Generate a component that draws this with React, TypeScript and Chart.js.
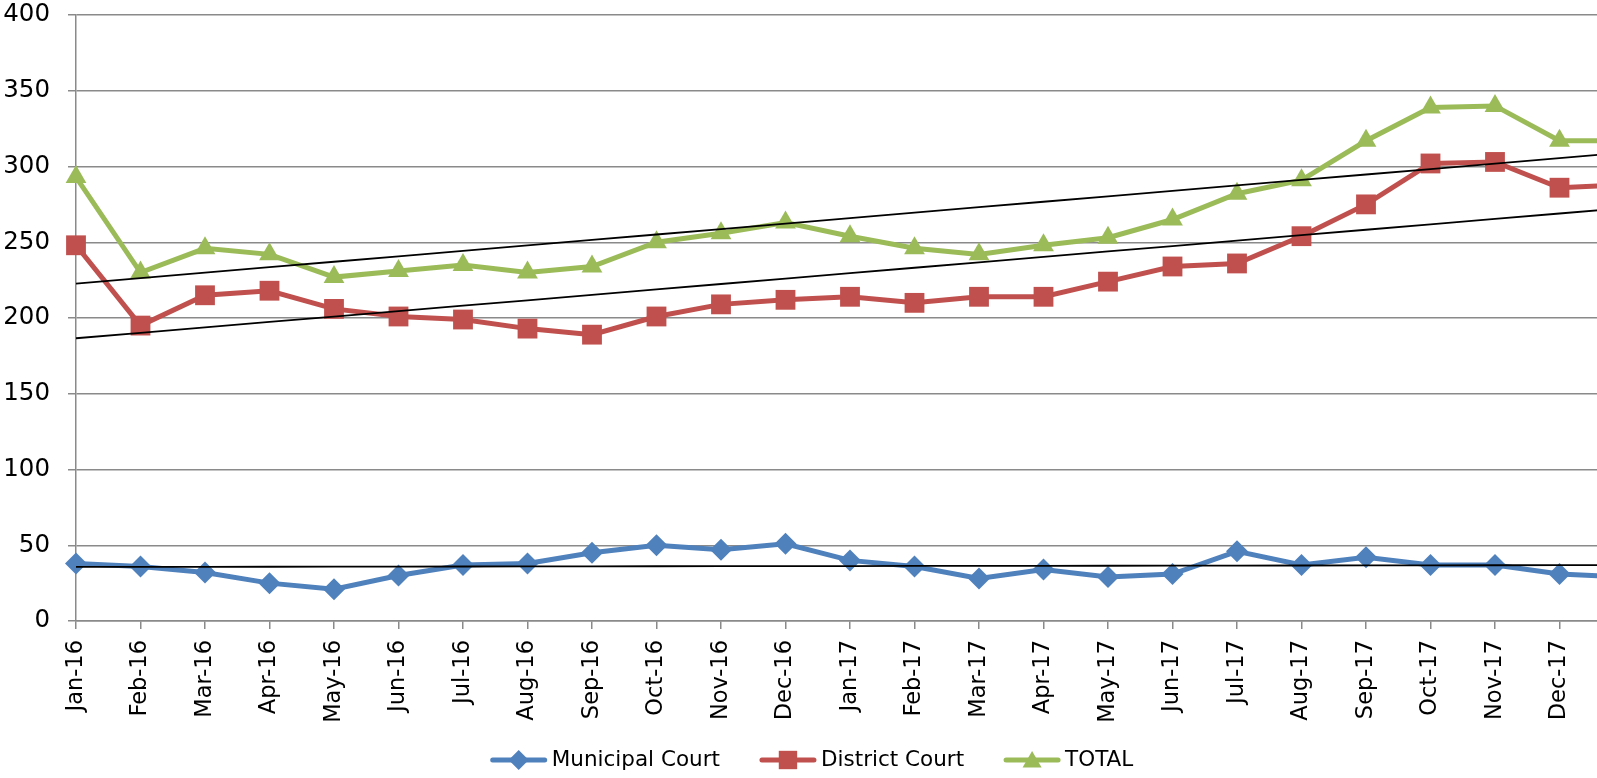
import React, { useEffect, useRef } from 'react';
import { Chart, registerables } from 'chart.js';

Chart.register(...registerables);

const months = [
  'Jan-16', 'Feb-16', 'Mar-16', 'Apr-16', 'May-16', 'Jun-16', 'Jul-16', 'Aug-16', 'Sep-16', 'Oct-16', 'Nov-16', 'Dec-16',
  'Jan-17', 'Feb-17', 'Mar-17', 'Apr-17', 'May-17', 'Jun-17', 'Jul-17', 'Aug-17', 'Sep-17', 'Oct-17', 'Nov-17', 'Dec-17',
  'Jan-18',
];
const municipal = [38, 36, 32, 25, 21, 30, 37, 38, 45, 50, 47, 51, 40, 36, 28, 34, 29, 31, 46, 37, 42, 37, 37, 31, 29];
const district = [248, 195, 215, 218, 206, 201, 199, 193, 189, 201, 209, 212, 214, 210, 214, 214, 224, 234, 236, 254, 275, 302, 303, 286, 288];
const total = [293, 230, 246, 242, 227, 231, 235, 230, 234, 250, 256, 263, 254, 246, 242, 248, 253, 265, 282, 291, 317, 339, 340, 317, 317];
const seriesNames = ['Municipal Court', 'District Court', 'TOTAL'];
const seriesColors = ['#4F81BD', '#C0504D', '#9BBB59'];
const yTicks = [0, 50, 100, 150, 200, 250, 300, 350, 400];

const FONT = '"DejaVu Sans", "Liberation Sans", sans-serif';
const MARKER_STYLES = ['rectRot', 'rect', 'triangle'];

function linearTrend(values: number[]): number[] {
  const n = values.length;
  let sx = 0, sy = 0, sxx = 0, sxy = 0;
  values.forEach((v, i) => { sx += i; sy += v; sxx += i * i; sxy += i * v; });
  const slope = (n * sxy - sx * sy) / (n * sxx - sx * sx);
  const icpt = (sy - slope * sx) / n;
  return values.map((_, i) => icpt + slope * i);
}

function drawMarker(ctx: CanvasRenderingContext2D, style: string, x: number, y: number, r: number) {
  ctx.beginPath();
  if (style === 'rectRot') {
    ctx.moveTo(x, y - r); ctx.lineTo(x + r, y); ctx.lineTo(x, y + r); ctx.lineTo(x - r, y);
  } else if (style === 'rect') {
    const s = r * Math.SQRT1_2;
    ctx.rect(x - s, y - s, 2 * s, 2 * s);
  } else {
    ctx.moveTo(x, y - r);
    ctx.lineTo(x + r * Math.sin(Math.PI / 3), y + r / 2);
    ctx.lineTo(x - r * Math.sin(Math.PI / 3), y + r / 2);
  }
  ctx.closePath();
  ctx.fill();
}

const legendPlugin = {
  id: 'customLegend',
  afterDraw(chart: any) {
    const ctx: CanvasRenderingContext2D = chart.ctx;
    ctx.save();
    ctx.font = '21.5px ' + FONT;
    const lineLen = 56, gap = 5, itemGap = 40;
    const widths = seriesNames.map((n) => lineLen + gap + ctx.measureText(n).width);
    const totalW = widths.reduce((a, b) => a + b, 0) + itemGap * (seriesNames.length - 1);
    let x = chart.width / 2 - totalW / 2;
    const y = 760;
    const radii = [10, 13, 11];
    seriesNames.forEach((name, i) => {
      ctx.strokeStyle = seriesColors[i];
      ctx.fillStyle = seriesColors[i];
      ctx.lineWidth = 5;
      ctx.lineCap = 'round';
      ctx.beginPath(); ctx.moveTo(x + 2, y); ctx.lineTo(x + lineLen - 2, y); ctx.stroke();
      drawMarker(ctx, MARKER_STYLES[i], x + lineLen / 2, MARKER_STYLES[i] === 'triangle' ? y + 2 : y, radii[i]);
      ctx.fillStyle = '#000000';
      ctx.textBaseline = 'middle';
      ctx.textAlign = 'left';
      ctx.fillText(name, x + lineLen + gap, y);
      x += widths[i] + itemGap;
    });
    ctx.restore();
  },
};

export default function App() {
  const ref = useRef<HTMLCanvasElement | null>(null);
  useEffect(() => {
    if (!ref.current) return;
    const radii = [11, 14, 12];
    const seriesData = [municipal, district, total];
    const datasets: any[] = seriesData.map((d, i) => ({
      label: seriesNames[i],
      data: d,
      borderColor: seriesColors[i],
      backgroundColor: seriesColors[i],
      borderWidth: 5,
      pointStyle: MARKER_STYLES[i],
      pointRadius: radii[i],
      pointBackgroundColor: seriesColors[i],
      pointBorderColor: seriesColors[i],
      pointBorderWidth: 0,
      tension: 0,
      order: 2,
    }));
    seriesData.forEach((d, i) => {
      datasets.push({
        label: 'trend-' + seriesNames[i],
        data: linearTrend(d),
        borderColor: '#000000',
        borderWidth: 1.8,
        pointRadius: 0,
        tension: 0,
        order: 1,
      });
    });
    const chart = new Chart(ref.current, {
      type: 'line',
      data: { labels: months, datasets },
      plugins: [legendPlugin],
      options: {
        animation: false,
        responsive: false,
        devicePixelRatio: 1,
        layout: { autoPadding: false, padding: { top: 15, left: 0, right: 0, bottom: 47 } },
        plugins: {
          tooltip: { enabled: false },
          legend: { display: false },
        },
        scales: {
          x: {
            type: 'category',
            offset: false,
            afterFit: (s: any) => { s.height = 110; s.paddingLeft = 0; s.paddingRight = 0; },
            grid: { display: true, drawOnChartArea: false, drawTicks: true, tickLength: 8, color: '#8a8a8a', lineWidth: 1.5 },
            border: { display: true, color: '#8a8a8a', width: 1.5 },
            ticks: {
              autoSkip: false, maxRotation: 90, minRotation: 90, padding: 11,
              color: '#000000', font: { family: FONT, size: 22.5 },
            },
          },
          y: {
            type: 'linear',
            min: yTicks[0],
            max: yTicks[yTicks.length - 1],
            afterFit: (s: any) => { s.width = 76; s.paddingTop = 0; s.paddingBottom = 0; },
            afterBuildTicks: (s: any) => { s.ticks = yTicks.map((v) => ({ value: v })); },
            grid: { color: '#8a8a8a', lineWidth: 1.5, tickLength: 8, drawTicks: true },
            border: { display: true, color: '#8a8a8a', width: 1.5 },
            ticks: { padding: 18, color: '#000000', font: { family: FONT, size: 24.5 } },
          },
        },
      } as any,
    });
    return () => chart.destroy();
  }, []);
  return (
    <div style={{ position: 'absolute', left: 0, top: 0, width: 1597, height: 778, overflow: 'hidden', background: '#fff' }}>
      <canvas ref={ref} width={1624} height={778} style={{ display: 'block' }} />
    </div>
  );
}
